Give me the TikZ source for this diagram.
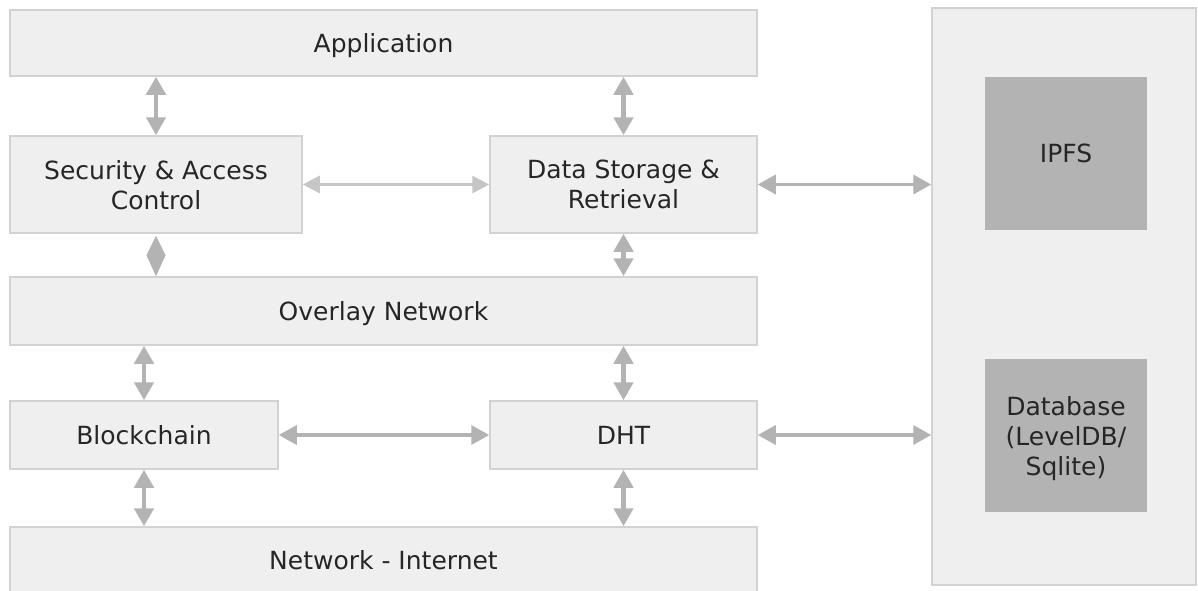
\documentclass[tikz,border=0pt]{standalone}
\usepackage{fontspec}
\setmainfont{DejaVu Sans}
\usetikzlibrary{arrows.meta}
\definecolor{boxfill}{HTML}{EFEFEF}
\definecolor{boxline}{HTML}{D2D2D2}
\definecolor{arrcol}{HTML}{B3B3B3}
\definecolor{innerfill}{HTML}{B3B3B3}
\definecolor{txt}{HTML}{262626}
\begin{document}
\begin{tikzpicture}[x=1pt,y=-1pt,
  box/.style={draw=boxline, line width=1.5pt, fill=boxfill, inner sep=0pt, align=center, text=txt,
    text depth=0pt, font=\fontsize{25}{30}\selectfont},
  inner/.style={fill=innerfill, inner sep=0pt, align=center, text=txt, text depth=0pt, font=\fontsize{25}{30}\selectfont},
  arr/.style={draw=arrcol, line width=4.5pt, {Triangle[width=19pt,length=18pt]}-{Triangle[width=19pt,length=18pt]}},
  thinarr/.style={draw=arrcol!75, line width=3pt, {Triangle[width=17pt,length=17pt]}-{Triangle[width=17pt,length=17pt]}}]
\useasboundingbox (0,0) rectangle (1198,590);
\fill[white] (0,0) rectangle (1198,590);
% boxes
\node[box, minimum width=747pt, minimum height=66pt] (app) at (383.5,43) {Application};
\node[box, minimum width=292pt, minimum height=97pt] (sec) at (156,184.5) {Security \& Access\\Control};
\node[box, minimum width=267pt, minimum height=97pt] (data) at (623.5,184.5) {Data Storage \&\\Retrieval};
\node[box, minimum width=747pt, minimum height=68pt] (ovl) at (383.5,311) {Overlay Network};
\node[box, minimum width=268pt, minimum height=68pt] (bc) at (144,435) {Blockchain};
\node[box, minimum width=267pt, minimum height=68pt] (dht) at (623.5,435) {DHT};
\node[box, minimum width=747pt, minimum height=66pt] (net) at (383.5,560) {Network - Internet};
\node[box, minimum width=264pt, minimum height=577pt] (store) at (1064,296.5) {};
\node[inner, minimum width=162pt, minimum height=153pt] (ipfs) at (1066,153.5) {IPFS};
\node[inner, minimum width=162pt, minimum height=153pt] (db) at (1066,435.5) {Database\\(LevelDB/\\Sqlite)};
% vertical arrows
\draw[arr] (sec.north) -- (sec.north |- app.south);
\draw[arr] (data.north) -- (data.north |- app.south);
\fill[arrcol] ([yshift=-2pt]sec.south) -- ([xshift=9.5pt,yshift=21pt]sec.south |- ovl.north)
  -- (sec.south |- ovl.north) -- ([xshift=-9.5pt,yshift=21pt]sec.south |- ovl.north) -- cycle;
\draw[arr] (data.south) -- (data.south |- ovl.north);
\draw[arr] (bc.north) -- (bc.north |- ovl.south);
\draw[arr] (dht.north) -- (dht.north |- ovl.south);
\draw[arr] (bc.south) -- (bc.south |- net.north);
\draw[arr] (dht.south) -- (dht.south |- net.north);
% horizontal arrows
\draw[thinarr] (sec.east) -- (sec.east -| data.west);
\draw[arr, line width=3.5pt] (data.east) -- (data.east -| store.west);
\draw[arr, line width=3.5pt] (bc.east) -- (bc.east -| dht.west);
\draw[arr, line width=3.5pt] (dht.east) -- (dht.east -| store.west);
\end{tikzpicture}
\end{document}
